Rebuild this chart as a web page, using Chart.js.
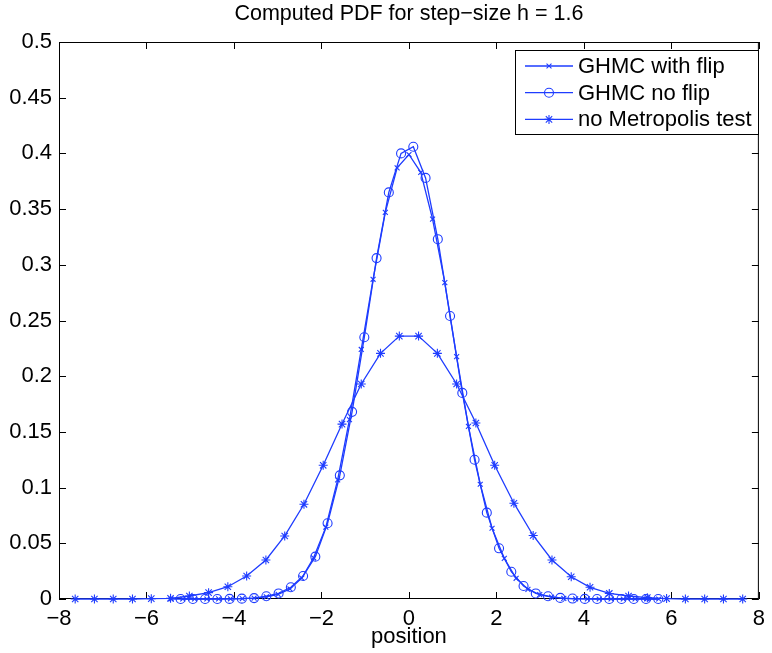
<!DOCTYPE html>
<html>
<head>
<meta charset="utf-8">
<script src="https://cdn.jsdelivr.net/npm/chart.js@4/dist/chart.umd.min.js"></script>
<style>
  html, body { margin: 0; padding: 0; background: #fff; }
  #wrap { width: 772px; height: 653px; }
</style>
</head>
<body>
<div id="wrap"><canvas id="pdfChart" width="772" height="653"></canvas></div>
<script>
// values
const titleText = 'Computed PDF for step\u2212size h = 1.6';
const xLabel = 'position';
const seriesNames = ['GHMC with flip', 'GHMC no flip', 'no Metropolis test'];

const flipX = [-5.44, -5.17, -4.90, -4.62, -4.35, -4.08, -3.81, -3.54, -3.26, -2.99, -2.72, -2.45, -2.18, -1.90,
    -1.63, -1.36, -1.09, -0.82, -0.54, -0.27, 0, 0.27, 0.54, 0.82, 1.09, 1.36, 1.63, 1.90, 2.18, 2.45, 2.72,
    2.99, 3.26, 3.54, 3.81, 4.08, 4.35, 4.62, 4.90, 5.17, 5.44, 5.71];
const flipY = [0, 0, 0, 0, 0.0001, 0.0002, 0.0004, 0.0008, 0.0019, 0.0042, 0.0090, 0.0188, 0.0370, 0.0645,
    0.1070, 0.1610, 0.2240, 0.2870, 0.3470, 0.3870, 0.3990, 0.3830, 0.3410, 0.2840, 0.2175, 0.1550, 0.1030,
    0.0635, 0.0365, 0.0186, 0.0087, 0.0039, 0.0016, 0.0006, 0.0002, 0.0001, 0, 0, 0, 0, 0, 0];

const noFlipX = [-5.22, -4.94, -4.66, -4.38, -4.10, -3.82, -3.54, -3.26, -2.98, -2.70, -2.42, -2.14, -1.86, -1.58,
    -1.30, -1.02, -0.74, -0.46, -0.18, 0.10, 0.38, 0.66, 0.94, 1.22, 1.50, 1.78, 2.06, 2.34, 2.62, 2.90, 3.18,
    3.46, 3.74, 4.02, 4.30, 4.58, 4.86, 5.14, 5.42, 5.70];
const noFlipY = [0, 0, 0, 0, 0.0001, 0.0003, 0.0008, 0.0025, 0.0050, 0.0105, 0.0206, 0.0380, 0.0680, 0.1110,
    0.1680, 0.2350, 0.3060, 0.3650, 0.4000, 0.4060, 0.3780, 0.3230, 0.2540, 0.1850, 0.1250, 0.0775, 0.0455,
    0.0245, 0.0117, 0.0050, 0.0025, 0.0010, 0.0004, 0.0001, 0, 0, 0, 0, 0, 0];

const noMetX = [-7.63, -7.19, -6.76, -6.32, -5.89, -5.45, -5.02, -4.58, -4.14, -3.71, -3.27, -2.84, -2.40, -1.96,
    -1.53, -1.09, -0.65, -0.22, 0.22, 0.65, 1.09, 1.53, 1.96, 2.40, 2.84, 3.27, 3.71, 4.14, 4.58, 5.02, 5.45,
    5.89, 6.32, 6.76, 7.19, 7.63];
const noMetY = [0, 0, 0, 0, 0.0003, 0.0006, 0.0027, 0.0057, 0.0110, 0.0206, 0.0350, 0.0566, 0.0850, 0.1200,
    0.1570, 0.1930, 0.2205, 0.2360, 0.2360, 0.2205, 0.1930, 0.1580, 0.1200, 0.0860, 0.0570, 0.0350, 0.0200,
    0.0105, 0.0050, 0.0027, 0.0012, 0.0004, 0, 0, 0, 0];

const BLUE = 'rgb(30,60,255)';
const FONT = "'Liberation Sans', Arial, Helvetica, sans-serif";

function toPoints(xs, ys) {
    return xs.map((x, i) => ({ x: x, y: ys[i] }));
}

function makeSet(label, xs, ys, style, radius) {
    return {
        label: label,
        data: toPoints(xs, ys),
        showLine: true,
        borderColor: BLUE,
        backgroundColor: 'rgba(0,0,0,0)',
        borderWidth: 1.3,
        pointStyle: style,
        pointRadius: radius,
        pointBorderColor: BLUE,
        pointBackgroundColor: 'rgba(0,0,0,0)',
        pointBorderWidth: 1.1,
        tension: 0,
        clip: false,
    };
}

// matlab style box with inward ticks on all four sides
const boxPlugin = {
    id: 'box',
    beforeDatasetsDraw(chart) {
        const { ctx, chartArea: a, scales } = chart;
        ctx.save();
        ctx.strokeStyle = '#000';
        ctx.lineWidth = 1;
        ctx.beginPath();
        scales.x.ticks.forEach(t => {
            const px = Math.round(scales.x.getPixelForValue(t.value)) + 0.5;
            ctx.moveTo(px, a.bottom); ctx.lineTo(px, a.bottom - 7);
            ctx.moveTo(px, a.top); ctx.lineTo(px, a.top + 7);
        });
        scales.y.ticks.forEach(t => {
            const py = Math.round(scales.y.getPixelForValue(t.value)) + 0.5;
            ctx.moveTo(a.left, py); ctx.lineTo(a.left + 7, py);
            ctx.moveTo(a.right, py); ctx.lineTo(a.right - 7, py);
        });
        ctx.stroke();
        ctx.strokeRect(a.left + 0.5, a.top + 0.5, a.right - a.left - 1, a.bottom - a.top - 1);
        ctx.restore();
    },
    afterDraw(chart) {
        const { ctx, chartArea: a } = chart;
        ctx.save();
        // title, centred over the axes
        ctx.fillStyle = '#000';
        ctx.font = '21.5px ' + FONT;
        ctx.textAlign = 'center';
        ctx.textBaseline = 'middle';
        ctx.fillText(titleText, (a.left + a.right) / 2, 14);

        // legend box
        const bx = 515, by = 50, bw = 243, bh = 84;
        ctx.fillStyle = '#fff';
        ctx.fillRect(bx, by, bw, bh);
        ctx.strokeStyle = '#000';
        ctx.lineWidth = 1;
        ctx.strokeRect(bx + 0.5, by + 0.5, bw, bh);
        chart.data.datasets.forEach((ds, i) => {
            const y = by + 16 + i * 26.7;
            ctx.strokeStyle = BLUE;
            ctx.lineWidth = 1.3;
            ctx.beginPath();
            ctx.moveTo(bx + 10, y);
            ctx.lineTo(bx + 58, y);
            ctx.stroke();
            ctx.fillStyle = 'rgba(0,0,0,0)';
            ctx.lineWidth = 1.1;
            Chart.helpers.drawPoint(ctx, {
                pointStyle: ds.pointStyle,
                radius: ds.pointRadius,
                rotation: 0,
                borderWidth: 1.1,
            }, bx + 34, y);
            ctx.fillStyle = '#000';
            ctx.font = '22px ' + FONT;
            ctx.textAlign = 'left';
            ctx.textBaseline = 'middle';
            ctx.fillText(ds.label, bx + 63, y + 1);
        });
        ctx.restore();
    },
};

const ctx = document.getElementById('pdfChart').getContext('2d');
new Chart(ctx, {
    type: 'scatter',
    data: {
        datasets: [
            makeSet(seriesNames[0], flipX, flipY, 'crossRot', 3.5),
            makeSet(seriesNames[1], noFlipX, noFlipY, 'circle', 4.5),
            makeSet(seriesNames[2], noMetX, noMetY, 'star', 4.5),
        ],
    },
    options: {
        responsive: false,
        animation: false,
        devicePixelRatio: 1,
        layout: { padding: { top: 42, right: 7, left: 0, bottom: 0 } },
        plugins: {
            legend: { display: false },
            title: { display: false },
            tooltip: { enabled: false },
        },
        scales: {
            x: {
                type: 'linear',
                min: -8, max: 8,
                grid: { display: false, drawTicks: false },
                border: { display: false },
                ticks: {
                    stepSize: 2,
                    padding: 7,
                    color: '#000',
                    font: { family: FONT, size: 22 },
                    maxRotation: 0,
                    callback: v => v < 0 ? '\u2212' + Math.abs(v) : String(v),
                },
                title: {
                    display: true,
                    text: xLabel,
                    color: '#000',
                    font: { family: FONT, size: 22 },
                    padding: { top: 0, bottom: 3 },
                },
                afterFit: s => { s.height = 54; },
            },
            y: {
                min: 0, max: 0.5,
                grid: { display: false, drawTicks: false },
                border: { display: false },
                ticks: {
                    stepSize: 0.05,
                    padding: 7,
                    color: '#000',
                    font: { family: FONT, size: 22 },
                    callback: v => String(Number(v.toFixed(2))),
                },
                afterFit: s => { s.width = 59; },
            },
        },
    },
    plugins: [boxPlugin],
});
</script>
</body>
</html>
